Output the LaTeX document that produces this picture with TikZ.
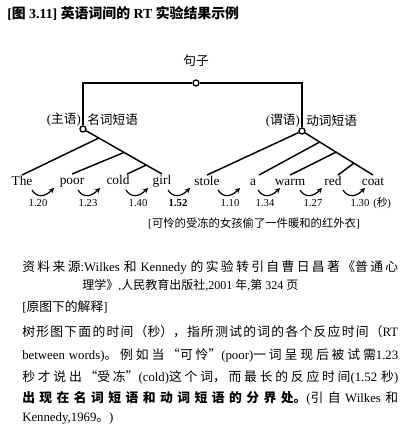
\documentclass[tikz,border=0pt]{standalone}
\usepackage{fontspec}
\setmainfont{Liberation Serif}
\newfontfamily\cjk{Noto Sans CJK SC}
\XeTeXlinebreaklocale "zh"
\XeTeXlinebreakskip=0pt plus 4pt
\usetikzlibrary{calc,arrows.meta,positioning}
\newcommand\zh[1]{{\cjk #1}}

\tikzset{
  treeline/.style={line width=1.1pt},
  joint/.style={circle,draw,fill=white,line width=1pt,inner sep=0pt,minimum size=4.5pt},
  word/.style={font=\fontsize{10}{12}\selectfont,inner sep=1pt,text height=1.5ex,text depth=.25ex},
  phrase/.style={font=\fontsize{9.5}{11}\selectfont,inner sep=0pt},
  rtime/.style={font=\fontsize{8}{10}\selectfont,inner sep=0pt},
  rtarrow/.style={line width=0.9pt,-{Stealth[length=4pt,width=4pt]}},
  bodyline/.style={font=\fontsize{9.6}{11}\selectfont,inner sep=0pt,anchor=west},
  fullline/.style={bodyline,text width=282pt,align=justify},
}

\begin{document}
\begin{tikzpicture}[x=0.75pt,y=-0.75pt]
    \useasboundingbox (0,0) rectangle (409,427);

    %% title
    \node[anchor=west,inner sep=0pt,font=\fontsize{10.4}{12}\selectfont\bfseries] (title) at (7,13)
        {[\zh{图} 3.11] \zh{英语词间的} RT \zh{实验结果示例}};

    %% joints
    \node[joint] (s)  at (196,83)  {};
    \node[joint] (np) at (83,129)  {};
    \node[joint] (vp) at (302,131) {};

    %% phrase labels
    \node[phrase] (slabel) at ($(s)+(0,-22)$) {\zh{句子}};
    \node[phrase,anchor=east] (npfun)  at ($(np)+(-2,-9)$) {(\zh{主语})};
    \node[phrase,anchor=west] (npname) at ($(np)+(4,-9)$)  {\zh{名词短语}};
    \node[phrase,anchor=east] (vpfun)  at ($(vp)+(-2,-10)$) {(\zh{谓语})};
    \node[phrase,anchor=west] (vpname) at ($(vp)+(4,-10)$)  {\zh{动词短语}};

    %% words
    \node[word] (the)   at (22,182)  {The};
    \node[word] (poor)  at (72,181)  {poor};
    \node[word] (cold)  at (118,181) {cold};
    \node[word] (girl)  at (162,181) {girl};
    \node[word] (stole) at (207,182) {stole};
    \node[word] (a)     at (253,182) {a};
    \node[word] (warm)  at (290,182) {warm};
    \node[word] (red)   at (333,182) {red};
    \node[word] (coat)  at (373,182) {coat};

    %% branch points
    \coordinate (np1) at ($(np)!0.2!(girl.north)$);
    \coordinate (np2) at ($(np)!0.52!(girl.north)$);
    \coordinate (np3) at ($(np)!0.8!(girl.north)$);
    \coordinate (vp1) at ($(vp)!0.25!(coat.north)$);
    \coordinate (vp2) at ($(vp)!0.48!(coat.north)$);
    \coordinate (vp3) at ($(vp)!0.73!(coat.north)$);

    %% edges
    \draw[line width=0.9pt] (np) |- (s);
    \draw[line width=0.9pt] (s) -| (vp);
    \draw[treeline] (np) -- (girl.north);
    \draw[treeline] (np1) -- (the.north);
    \draw[treeline] (np2) -- (poor.north);
    \draw[treeline] (np3) -- ($(cold.north)!0.7!(cold.north east)$);
    \draw[treeline] (vp) -- (coat.north);
    \draw[treeline] (vp) -- (stole.north);
    \draw[treeline] (vp1) -- ($(a.north)+(6,0)$);
    \draw[treeline] (vp2) -- (warm.north);
    \draw[treeline] (vp3) -- ($(red.north)+(5,0)$);

    %% reaction times
    \foreach \x in {32,78,126,168,218,258,300,343}
        \draw[rtarrow] (\x,190) .. controls (\x+5,198) and (\x+13,197) .. (\x+22,188);
    \node[rtime] (t1) at (38,203)  {1.20};
    \node[rtime] (t2) at (88,203)  {1.23};
    \node[rtime] (t3) at (138,203) {1.40};
    \node[rtime] (t4) at (178,203) {\textbf{1.52}};
    \node[rtime] (t5) at (230,203) {1.10};
    \node[rtime] (t6) at (265,203) {1.34};
    \node[rtime] (t7) at (313,203) {1.27};
    \node[rtime] (t8) at (360,203) {1.30};
    \node[rtime,anchor=west] (unit) at (373,203) {(\zh{秒})};

    %% gloss
    \node[font=\fontsize{8.5}{10}\selectfont,inner sep=0pt] (gloss) at (254,223)
        {[\zh{可怜的受冻的女孩偷了一件暖和的红外衣}]};

    %% source
    \node[fullline] (src1) at (22,267)
        {\parfillskip=0pt \zh{资料来源}:Wilkes \zh{和} Kennedy \zh{的实验转引自曹日昌著《普通心}\par};
    \node[bodyline,font=\fontsize{9}{11}\selectfont] (src2) at (82,285)
        {\zh{理学》},\zh{人民教育出版社},2001 \zh{年},\zh{第} 324 \zh{页}};

    %% explanation
    \node[bodyline] (exhead) at (22,307) {[\zh{原图下的解释}]};
    \node[fullline] (ex1) at (22,332)
        {\parfillskip=0pt \zh{树形图下面的时间（秒），指所测试的词的各个反应时间（}RT\par};
    \node[fullline] (ex2) at (22,355)
        {\parfillskip=0pt between words)\zh{。例如当“可怜”}(poor)\zh{一词呈现后被试需}1.23\par};
    \node[fullline] (ex3) at (22,377)
        {\parfillskip=0pt \zh{秒才说出“受冻”}(cold)\zh{这个词，而最长的反应时间}(1.52 \zh{秒})\par};
    \node[fullline] (ex4) at (22,398)
        {\parfillskip=0pt {\bfseries\zh{出现在名词短语和动词短语的分界处。}}(\zh{引自} Wilkes \zh{和}\par};
    \node[bodyline] (ex5) at (22,418) {Kennedy,1969\zh{。})};
\end{tikzpicture}
\end{document}
